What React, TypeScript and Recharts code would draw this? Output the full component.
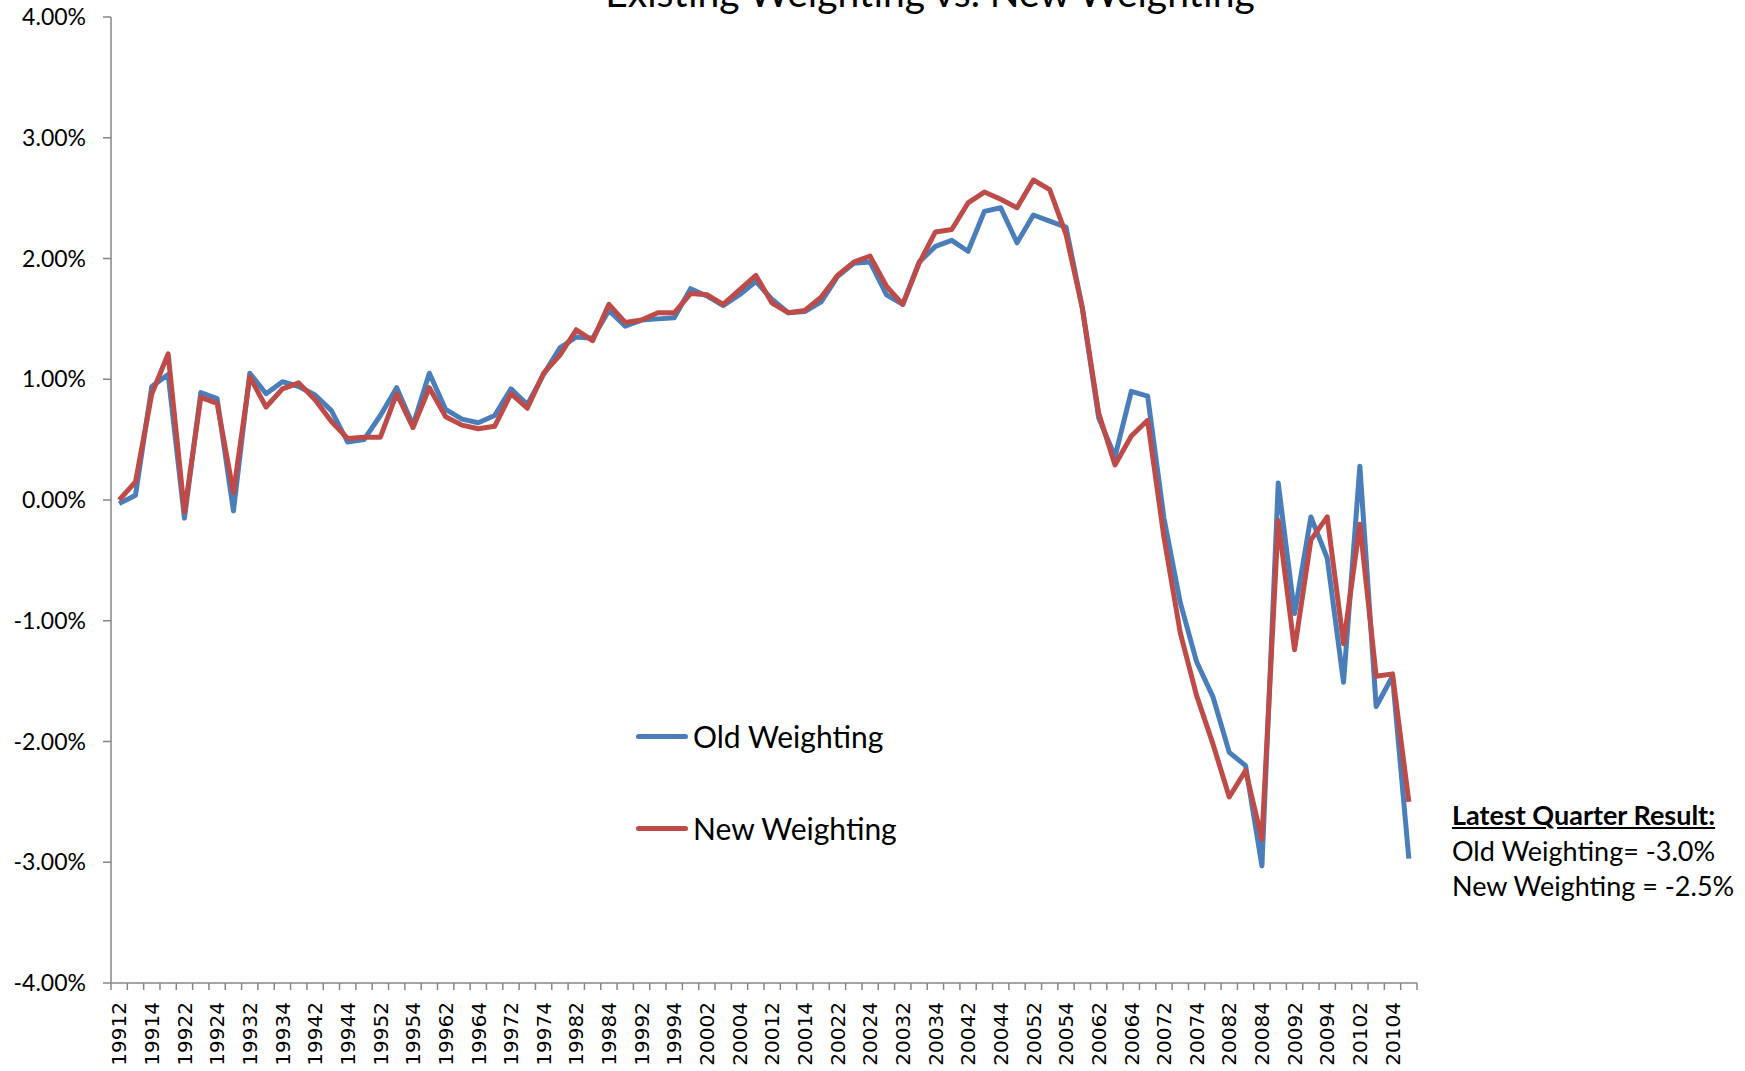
import React from 'react';
import { LineChart, Line, XAxis, YAxis, Legend } from 'recharts';

const quarters = [
  '19912', '19913', '19914',
  '19921', '19922', '19923', '19924',
  '19931', '19932', '19933', '19934',
  '19941', '19942', '19943', '19944',
  '19951', '19952', '19953', '19954',
  '19961', '19962', '19963', '19964',
  '19971', '19972', '19973', '19974',
  '19981', '19982', '19983', '19984',
  '19991', '19992', '19993', '19994',
  '20001', '20002', '20003', '20004',
  '20011', '20012', '20013', '20014',
  '20021', '20022', '20023', '20024',
  '20031', '20032', '20033', '20034',
  '20041', '20042', '20043', '20044',
  '20051', '20052', '20053', '20054',
  '20061', '20062', '20063', '20064',
  '20071', '20072', '20073', '20074',
  '20081', '20082', '20083', '20084',
  '20091', '20092', '20093', '20094',
  '20101', '20102', '20103', '20104',
  '20111',
];

// percent
const oldWeighting = [
  -0.03, 0.04, 0.94, 1.04, -0.15, 0.89, 0.84, -0.09, 1.05, 0.88,
  0.98, 0.94, 0.87, 0.74, 0.48, 0.50, 0.70, 0.93, 0.62, 1.05,
  0.75, 0.67, 0.64, 0.70, 0.92, 0.79, 1.04, 1.26, 1.35, 1.34,
  1.57, 1.44, 1.49, 1.50, 1.51, 1.75, 1.69, 1.61, 1.70, 1.81,
  1.66, 1.55, 1.56, 1.64, 1.85, 1.96, 1.97, 1.70, 1.62, 1.97,
  2.10, 2.15, 2.06, 2.39, 2.42, 2.13, 2.36, 2.31, 2.26, 1.59,
  0.68, 0.36, 0.90, 0.86, -0.15, -0.85, -1.34, -1.63, -2.09, -2.20,
  -3.03, 0.14, -0.94, -0.14, -0.48, -1.51, 0.28, -1.71, -1.46, -2.97,
];

const newWeighting = [
  0.00, 0.15, 0.88, 1.21, -0.10, 0.85, 0.80, 0.06, 1.02, 0.77,
  0.92, 0.97, 0.83, 0.65, 0.51, 0.52, 0.52, 0.88, 0.60, 0.93,
  0.69, 0.62, 0.59, 0.61, 0.88, 0.76, 1.05, 1.20, 1.41, 1.32,
  1.62, 1.47, 1.49, 1.55, 1.55, 1.71, 1.70, 1.62, 1.74, 1.86,
  1.63, 1.55, 1.57, 1.68, 1.86, 1.97, 2.02, 1.77, 1.62, 1.96,
  2.22, 2.24, 2.46, 2.55, 2.49, 2.42, 2.65, 2.57, 2.20, 1.59,
  0.72, 0.29, 0.53, 0.66, -0.31, -1.10, -1.62, -2.02, -2.46, -2.24,
  -2.81, -0.17, -1.24, -0.33, -0.14, -1.19, -0.20, -1.46, -1.44, -2.50,
];

const yTicks = [-4, -3, -2, -1, 0, 1, 2, 3, 4];
const seriesNames = ['Old Weighting', 'New Weighting'];

const data = quarters.map((q, i) => ({ q, old: oldWeighting[i], new: newWeighting[i] }));

const W = 1745;
const H = 1071;
const PLOT_LEFT = 111;
const PLOT_RIGHT = 1417;
const AXIS = '#868686';
const BLUE = '#4A7EBB';
const RED = '#BE4B48';
const HALF = (PLOT_RIGHT - PLOT_LEFT) / quarters.length / 2;

const XTick = (props: any) => {
  const { x, y, payload } = props;
  const idx = payload?.index ?? props.index;
  return (
    <g>
      <line x1={x - HALF} x2={x - HALF} y1={y} y2={y + 7} stroke={AXIS} strokeWidth={1.5} />
      {idx === quarters.length - 1 && (
        <line x1={x + HALF} x2={x + HALF} y1={y} y2={y + 7} stroke={AXIS} strokeWidth={1.5} />
      )}
      {idx % 2 === 0 && (
        <text
          x={x}
          y={y + 19}
          transform={`rotate(-90 ${x} ${y + 19})`}
          textAnchor="end"
          dy="0.36em"
          fontFamily="DejaVu Sans"
          fontSize={20}
          fill="#000"
        >
          {payload.value}
        </text>
      )}
    </g>
  );
};

const LegendBox = ({ payload }: any) => {
  const items = [...(payload || [])].sort(
    (a: any, b: any) => seriesNames.indexOf(a.value) - seriesNames.indexOf(b.value)
  );
  return (
    <div style={{ fontFamily: 'Lato', fontSize: 30, color: '#000', whiteSpace: 'nowrap' }}>
      {items.map((p: any, i: number) => (
        <div key={i} style={{ display: 'flex', alignItems: 'center', height: 40, marginBottom: i === 0 ? 52 : 0 }}>
          <div style={{ width: 52, height: 5, borderRadius: 3, background: p.color, marginRight: 5 }} />
          <span>{p.value}</span>
        </div>
      ))}
    </div>
  );
};

export default function App() {
  return (
    <div style={{ position: 'fixed', left: 0, top: 0, width: W, height: H, background: '#fff' }}>
      <LineChart width={W} height={H} data={data} margin={{ top: 17, right: W - PLOT_RIGHT, bottom: 0, left: 0 }}>
        <XAxis
          dataKey="q"
          interval={0}
          height={88}
          padding={{ left: HALF, right: HALF }}
          tickLine={false}
          tickSize={0}
          tickMargin={0}
          axisLine={{ stroke: AXIS, strokeWidth: 1.5 }}
          tick={<XTick />}
        />
        <YAxis
          type="number"
          domain={[-4, 4]}
          ticks={yTicks}
          width={PLOT_LEFT}
          tickSize={8}
          tickMargin={17}
          tickFormatter={(v: number) => `${v.toFixed(2)}%`}
          axisLine={{ stroke: AXIS, strokeWidth: 1.5 }}
          tickLine={{ stroke: AXIS, strokeWidth: 1.5 }}
          tick={{ fontFamily: 'Lato', fontSize: 23, fill: '#000' }}
        />
        <Legend
          layout="vertical"
          align="center"
          verticalAlign="middle"
          content={<LegendBox />}
          wrapperStyle={{ left: 636, top: 716, width: 320 }}
        />
        <Line
          type="linear"
          dataKey="old"
          name={seriesNames[0]}
          stroke={BLUE}
          strokeWidth={5}
          strokeLinejoin="round"
          dot={false}
          isAnimationActive={false}
        />
        <Line
          type="linear"
          dataKey="new"
          name={seriesNames[1]}
          stroke={RED}
          strokeWidth={5}
          strokeLinejoin="round"
          dot={false}
          isAnimationActive={false}
        />
      </LineChart>
      <svg width={W} height={40} style={{ position: 'absolute', left: 0, top: 0, pointerEvents: 'none' }}>
        <text x={930} y={7} textAnchor="middle" fontFamily="Lato" fontSize={39} fill="#000">
          Existing Weighting vs. New Weighting
        </text>
      </svg>
      <div
        style={{
          position: 'absolute',
          left: 1452,
          top: 797,
          fontFamily: 'Lato',
          fontSize: 27,
          lineHeight: '35.6px',
          color: '#000',
          whiteSpace: 'nowrap',
        }}
      >
        <div style={{ fontWeight: 700, textDecoration: 'underline' }}>Latest Quarter Result:</div>
        <div>Old Weighting= -3.0%</div>
        <div>New Weighting = -2.5%</div>
      </div>
    </div>
  );
}
